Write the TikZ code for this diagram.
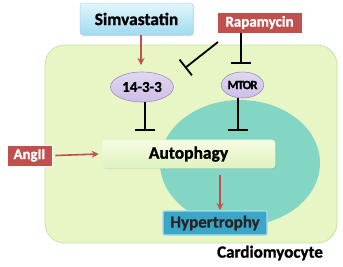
\documentclass[tikz,border=0pt]{standalone}
\usepackage{fontspec}
\setmainfont{Carlito}[BoldFeatures={FakeBold=1.2}]
\usetikzlibrary{shapes.geometric,arrows.meta,shadows}
\definecolor{cellfill}{RGB}{232,246,198}
\definecolor{celldraw}{RGB}{200,226,160}
\definecolor{teal1}{RGB}{132,214,196}
\definecolor{redbox}{RGB}{192,80,77}
\definecolor{redarrow}{RGB}{192,80,77}
\definecolor{lav}{RGB}{204,190,230}
\definecolor{lavdraw}{RGB}{160,140,196}
\definecolor{hyp}{RGB}{60,166,200}
\definecolor{hypdraw}{RGB}{170,220,236}
\definecolor{simtop}{RGB}{226,246,252}
\definecolor{simbot}{RGB}{160,218,240}
\definecolor{autotop}{RGB}{248,252,228}
\definecolor{autobot}{RGB}{222,242,190}
\tikzset{
  redlabel/.style={fill=redbox, draw=white, line width=0.8pt, text=white, inner sep=0pt, drop shadow={opacity=0.3,shadow xshift=1pt,shadow yshift=-1pt}},
  oval/.style={ellipse, top color=lav!60!white, bottom color=lav, draw=lavdraw, line width=0.6pt, inner sep=0pt},
  act/.style={-{Stealth[length=7pt,width=7pt]}, draw=redarrow, line width=1.6pt},
  inh/.style={-{Bar[width=20pt]}, line width=1.8pt, draw=black},
}
\begin{document}
\begin{tikzpicture}[x=1pt,y=-1pt]
\useasboundingbox (0,0) rectangle (343,266);
% cell
\draw[celldraw, fill=cellfill, line width=0.8pt, rounded corners=20pt] (45,45) rectangle (337,243);
% nucleus-like ellipse
\fill[teal1] (240,163) ellipse [x radius=80, y radius=63];
% Simvastatin
\node (sim) [minimum width=113pt, minimum height=32pt, inner sep=0pt, top color=simtop, bottom color=simbot, draw=simbot!80!black!60!white, line width=0.5pt, rounded corners=3pt, drop shadow={opacity=0.25,shadow xshift=1pt,shadow yshift=-1pt}, font=\fontsize{17.4}{19}\selectfont\bfseries] at (136.5,19) {Simvastatin};
% Rapamycin
\node (rapa) [redlabel, minimum width=85pt, minimum height=21pt, font=\fontsize{15}{17}\selectfont\bfseries] at (259.5,22.5) {Rapamycin};
% AngII
\node (ang) [redlabel, minimum width=45pt, minimum height=21pt, font=\fontsize{14.8}{16}\selectfont\bfseries] at (29.5,155.5) {AngII};
% 14-3-3
\node (p14) [oval, minimum width=63pt, minimum height=30pt, font=\fontsize{15}{17}\selectfont\bfseries] at (142,87) {14-3-3};
% MTOR
\node (mtor) [oval, minimum width=41pt, minimum height=26pt, font=\fontsize{12.5}{14}\selectfont\bfseries\addfontfeatures{LetterSpace=-6}] at (242.5,85) {MTOR};
% Autophagy
\node (auto) [minimum width=173pt, minimum height=28pt, inner sep=0pt, top color=autotop, bottom color=autobot, draw=white!85!green, line width=0.6pt, rounded corners=3pt, drop shadow={opacity=0.25,shadow xshift=1pt,shadow yshift=-1pt}, font=\fontsize{17.5}{19}\selectfont\bfseries] at (188.5,154) {Autophagy};
% Hypertrophy
\node (hyp) [minimum width=104pt, minimum height=24pt, inner sep=0pt, fill=hyp, draw=hypdraw, line width=1.2pt, rounded corners=1pt, font=\fontsize{17}{19}\selectfont\bfseries, text=black!85] at (215,223) {Hypertrophy};
% Cardiomyocyte
\node (card) [font=\fontsize{17}{19}\selectfont\bfseries, inner sep=0pt] at (270,253) {Cardiomyocyte};
% coordinates
\coordinate (rdiag) at (218,42);
\coordinate (rdiagend) at (185,68);
% connectors
\draw[act] (sim.south -| 141,0) -- (141,65);
\draw[inh] (rdiag) -- (rdiagend);
\draw[inh] (rapa.south -| 241,0) -- (241,64);
\draw[inh] (p14.south -| 145,0) -- (145,131);
\draw[inh] (mtor.south -| 238,0) -- (238,131);
\draw[act] (ang.east) ++(3,0) -- ([xshift=-3pt]auto.west);
\draw[act] (auto.south -| 220,0) ++(0,7) -- (220,210);
\end{tikzpicture}
\end{document}
